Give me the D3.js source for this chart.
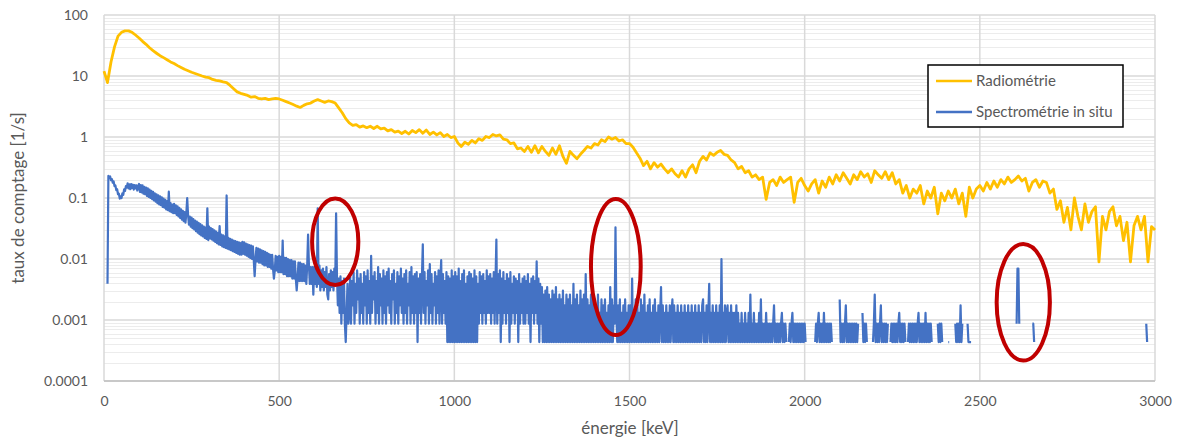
<!DOCTYPE html>
<html>
<head>
<meta charset="utf-8">
<script src="https://cdn.jsdelivr.net/npm/d3@7"></script>
<style>
  body { margin: 0; background: #fff; }
  text { font-family: Lato, "Open Sans", sans-serif; fill: #595959; }
</style>
</head>
<body>
<div id="chart"></div>
<script>
// x ticks / y ticks
var xTicks = [0, 500, 1000, 1500, 2000, 2500, 3000];
var yTicks = [100, 10, 1, 0.1, 0.01, 0.001, 0.0001];
var yTickLabels = ["100", "10", "1", "0.1", "0.01", "0.001", "0.0001"];

// Radiométrie, 10 keV channels from 0 keV, count rate [1/s]
var radioStep = 10;
var radioRate = [
  12, 7.8, 17, 30, 45, 52, 55, 55, 52, 47,
  42, 37, 33, 29, 26, 23.6, 21.5, 20, 18.5, 17,
  16, 14.8, 13.8, 12.9, 12.2, 11.5, 11, 10.5, 10, 9.6,
  9.4, 8.8, 8.5, 8.3, 8.0, 7.8, 7.0, 6.2, 5.5, 5.2,
  5.0, 4.8, 4.5, 4.6, 4.3, 4.2, 4.3, 4.1, 4.2, 4.3,
  4.2, 4.0, 3.8, 3.6, 3.4, 3.2, 3.05, 3.3, 3.5, 3.6,
  3.9, 4.1, 3.9, 3.7, 3.9, 3.8, 3.6, 3.0, 2.5, 2.0,
  1.7, 1.55, 1.6, 1.45, 1.52, 1.42, 1.5, 1.38, 1.5, 1.36,
  1.4, 1.26, 1.32, 1.2, 1.25, 1.14, 1.24, 1.12, 1.28, 1.18,
  1.32, 1.15, 1.3, 1.1, 1.2, 1.08, 1.18, 1.02, 1.1, 0.98,
  1.02, 0.8, 0.7, 0.82, 0.76, 0.88, 0.8, 0.94, 0.88, 1.02,
  0.98, 1.1, 1.04, 1.08, 0.92, 0.9, 0.78, 0.8, 0.64, 0.66,
  0.58, 0.7, 0.56, 0.72, 0.55, 0.7, 0.58, 0.5, 0.66, 0.52,
  0.72, 0.48, 0.37, 0.58, 0.5, 0.44, 0.52, 0.6, 0.7, 0.66,
  0.78, 0.74, 0.9, 0.84, 1.0, 0.92, 0.98, 0.86, 0.9, 0.78,
  0.78, 0.68, 0.55, 0.45, 0.34, 0.4, 0.3, 0.38, 0.32, 0.36,
  0.3, 0.26, 0.3, 0.25, 0.22, 0.28, 0.22, 0.3, 0.35, 0.26,
  0.4, 0.48, 0.42, 0.55, 0.5, 0.56, 0.6, 0.52, 0.5, 0.42,
  0.38, 0.3, 0.33, 0.26, 0.28, 0.22, 0.24, 0.2, 0.22, 0.095,
  0.18, 0.2, 0.16, 0.22, 0.18, 0.2, 0.22, 0.085, 0.18, 0.21,
  0.16, 0.13, 0.17, 0.2, 0.12, 0.19, 0.15, 0.22, 0.17, 0.24,
  0.19, 0.26, 0.21, 0.17, 0.24, 0.2, 0.27, 0.22, 0.25, 0.18,
  0.28, 0.24, 0.21, 0.27, 0.2, 0.26, 0.17, 0.2, 0.12, 0.16,
  0.1, 0.14, 0.12, 0.16, 0.08, 0.13, 0.1, 0.15, 0.055, 0.12,
  0.09, 0.13, 0.1, 0.14, 0.08, 0.12, 0.05, 0.15, 0.1, 0.14,
  0.16, 0.13, 0.18, 0.14, 0.19, 0.15, 0.2, 0.17, 0.22, 0.18,
  0.2, 0.23, 0.19, 0.21, 0.13, 0.18, 0.2, 0.15, 0.19, 0.18,
  0.12, 0.14, 0.065, 0.09, 0.04, 0.07, 0.03, 0.1, 0.05, 0.03,
  0.08, 0.04, 0.06, 0.072, 0.009, 0.05, 0.03, 0.06, 0.072, 0.035,
  0.05, 0.02, 0.04, 0.009, 0.035, 0.05, 0.03, 0.05, 0.009, 0.034,
  0.03
];

// Spectrométrie in situ, 2.5 keV channels from 0 keV, counts (zero = no point)
var specStep = 2.5;
var specLiveTime = 2300; // s
var specCounts = [
  // 0 - 100
  0,0,0,0,9,529,490,520,450,470,410,430,360,370,310,320,265,270,225,245,
  230,275,260,320,300,360,340,400,330,385,320,390,335,380,315,375,330,370,305,360,
  // 100 - 200
  390,290,375,285,370,270,350,265,340,250,330,240,315,230,300,220,290,210,275,200,
  265,190,255,180,245,175,235,165,225,160,215,150,205,145,292,140,190,135,180,130,
  // 200 - 300
  185,130,175,122,168,115,158,108,150,102,142,96,135,91,128,230,120,84,114,78,
  110,74,104,70,98,66,94,62,90,59,86,56,82,54,78,51,75,49,156,47,
  // 300 - 400
  78,50,74,48,71,46,68,44,65,42,62,40,80,39,58,37,56,36,54,35,
  253,34,51,33,49,32,48,31,46,30,45,29,44,28,43,27,42,27,44,28,
  // 400 - 500
  43,27,41,26,40,25,39,24,38,23,37,22,12,22,35,21,34,20,33,20,
  32,19,31,18,30,18,29,17,28,17,27,16,27,16,11,15,26,15,25,14,
  // 500 - 600
  26,14,25,14,46,13,24,13,24,12,23,12,22,12,22,11,21,11,21,11,
  7,11,20,10,20,10,19,10,19,10,18,9,18,58,18,9,17,9,17,6,
  // 600 - 700
  17,9,16,8,156,9,18,7,15,8,16,7,14,8,17,6,5,13,7,15,
  8,14,7,16,9,129,12,4,11,3,12,2,10,3,11,2,1,3,9,2,
  // 700 - 800
  3,13,2,10,4,14,2,9,3,15,5,11,2,13,3,9,2,14,4,12,
  2,15,3,10,2,26,3,12,5,14,2,10,3,17,2,13,4,11,2,15,
  // 800 - 900
  3,12,2,14,4,16,3,10,2,13,5,15,2,9,3,14,2,12,4,16,
  3,11,2,13,3,15,2,9,4,14,2,17,3,12,2,13,3,14,1,11,
  // 900 - 1000
  3,13,2,12,40,3,14,2,10,4,15,2,19,3,13,2,9,4,14,2,
  12,3,15,2,10,22,2,13,3,10,2,14,1,12,1,11,1,15,1,12,
  // 1000 - 1100
  1,14,1,12,1,16,1,10,1,13,1,15,1,9,1,12,1,14,1,13,
  1,11,1,15,1,12,1,9,2,14,3,12,2,13,3,10,2,15,3,12,
  // 1100 - 1200
  3,13,2,11,3,14,2,10,48,2,13,3,15,1,11,2,14,3,10,2,
  13,3,11,1,14,2,9,3,12,2,11,3,10,1,13,2,9,3,11,2,
  // 1200 - 1300
  12,2,10,3,13,2,9,1,11,3,12,2,10,3,21,2,11,1,9,2,
  8,1,6,1,7,1,8,1,6,1,5,1,7,1,6,1,8,1,5,1,
  // 1300 - 1400
  6,1,5,1,7,1,4,1,6,1,5,1,6,1,4,1,9,1,5,1,
  6,1,4,1,7,1,5,1,6,1,13,1,5,1,4,1,6,1,5,1,
  // 1400 - 1500
  5,1,4,1,6,1,3,1,5,1,4,1,5,1,3,1,4,1,8,1,
  5,1,4,2,76,3,1,4,1,5,1,3,1,4,1,5,1,3,1,4,
  // 1500 - 1600
  1,4,1,11,1,3,1,5,1,4,1,3,1,5,1,4,1,6,1,3,
  1,4,1,5,1,3,1,4,1,5,1,3,1,4,1,3,8,1,4,1,
  // 1600 - 1700
  3,1,4,1,3,1,4,1,3,5,1,4,1,3,1,4,1,3,1,4,
  1,3,1,4,1,3,1,4,1,3,1,4,1,3,1,4,1,3,1,4,
  // 1700 - 1800
  1,3,1,4,5,1,3,1,4,1,3,9,1,3,1,4,1,3,1,4,
  1,3,1,4,1,23,1,3,1,4,1,3,4,1,3,1,4,1,3,1,
  // 1800 - 1900
  3,1,4,1,3,1,2,1,3,1,2,1,3,1,2,1,3,1,6,1,
  2,1,3,1,2,1,2,1,3,1,5,1,2,1,2,1,3,1,2,1,
  // 1900 - 2000
  2,1,2,1,2,4,1,2,1,2,1,2,1,2,3,1,2,1,2,1,
  0,0,1,2,1,2,3,1,2,1,2,1,2,1,2,1,2,1,2,1,
  // 2000 - 2100
  2,1,0,0,0,0,0,0,0,0,0,0,1,2,1,2,3,1,2,1,
  2,1,3,1,2,1,2,1,2,1,2,1,0,0,0,0,0,0,0,0,
  // 2100 - 2200
  5,1,2,1,2,1,2,4,1,2,1,2,1,2,1,2,1,2,1,2,
  1,2,0,0,0,0,3,1,2,1,2,1,0,0,0,0,0,0,1,2,
  // 2200 - 2300
  6,1,2,1,2,1,2,4,1,2,1,2,1,2,1,2,0,0,1,2,
  1,2,1,2,1,2,1,2,3,1,2,1,2,1,2,1,0,0,1,2,
  // 2300 - 2400
  1,2,1,2,1,2,1,2,1,2,3,1,2,1,2,1,2,1,3,1,
  2,1,2,1,2,1,0,0,0,0,0,0,2,1,2,1,2,1,0,0,
  // 2400 - 2500
  0,0,0,0,1,1,0,0,0,0,0,0,2,1,2,1,2,1,4,1,
  2,0,0,0,0,0,2,1,1,1,1,0,0,0,0,0,0,0,0,0,
  // 2500 - 2600
  0,0,0,0,0,0,0,0,0,0,0,0,0,0,0,0,0,0,0,0,
  0,0,0,0,0,0,0,0,0,0,0,0,0,0,0,0,0,0,0,0,
  // 2600 - 2700
  0,0,2,16,16,2,0,0,0,0,0,0,0,0,0,0,0,0,0,0,
  2,2,1,0,0,0,0,0,0,0,0,0,0,0,0,0,0,0,0,0,
  // 2700 - 2800
  0,0,0,0,0,0,0,0,0,0,0,0,0,0,0,0,0,0,0,0,
  0,0,0,0,0,0,0,0,0,0,0,0,0,0,0,0,0,0,0,0,
  // 2800 - 2900
  0,0,0,0,0,0,0,0,0,0,0,0,0,0,0,0,0,0,0,0,
  0,0,0,0,0,0,0,0,0,0,0,0,0,0,0,0,0,0,0,0,
  // 2900 - 3000
  0,0,0,0,0,0,0,0,0,0,0,0,0,0,0,0,0,0,0,0,
  0,0,0,0,0,0,0,0,0,0,2,1,0,0,0,0,0,0,0,0,
  0
];

// highlighted peaks: centre energy, centre rate, half width keV, half height in decades
var peakKeV = [660, 1461, 2624];
var peakRate = [0.0192, 0.0074, 0.00195];
var peakHalfKeV = [66, 71, 76];
var peakHalfDec = [0.71, 1.115, 0.956];

var seriesNames = ["Radiométrie", "Spectrométrie in situ"];
var seriesColors = ["#ffc000", "#4472c4"];

var svgWidth = 1183;
var svgHeight = 441;
var margin = { top: 15, right: 28, bottom: 60, left: 104 };
var width = 1155 - margin.left;
var height = 381 - margin.top;

var svg = d3.select("#chart")
  .append("svg")
  .attr("width", svgWidth)
  .attr("height", svgHeight);

var chartGroup = svg.append("g")
  .attr("transform", `translate(${margin.left}, ${margin.top})`);

var x = d3.scaleLinear().domain([0, 3000]).range([0, width]);
var y = d3.scaleLog().domain([0.0001, 100]).range([height, 0]);

// minor horizontal grid
var minor = [];
for (var e = -4; e < 2; e++) {
  for (var k = 2; k < 10; k++) minor.push(k * Math.pow(10, e));
}
chartGroup.append("g").selectAll("line")
  .data(minor).enter().append("line")
  .attr("x1", 0).attr("x2", width)
  .attr("y1", d => Math.round(y(d)) + 0.5).attr("y2", d => Math.round(y(d)) + 0.5)
  .attr("stroke", "#ececec").attr("stroke-width", 1);

// major grid
chartGroup.append("g").selectAll("line")
  .data(yTicks).enter().append("line")
  .attr("x1", 0).attr("x2", width)
  .attr("y1", d => Math.round(y(d))).attr("y2", d => Math.round(y(d)))
  .attr("stroke", "#d9d9d9").attr("stroke-width", 1.5);

chartGroup.append("g").selectAll("line")
  .data(xTicks).enter().append("line")
  .attr("x1", d => x(d)).attr("x2", d => x(d))
  .attr("y1", 0).attr("y2", height)
  .attr("stroke", "#d9d9d9").attr("stroke-width", 1.5);

chartGroup.append("line")
  .attr("x1", 0).attr("x2", width)
  .attr("y1", height).attr("y2", height)
  .attr("stroke", "#bfbfbf").attr("stroke-width", 1.5);

// axes labels
var leftAxis = d3.axisLeft(y)
  .tickValues(yTicks)
  .tickSize(0)
  .tickPadding(16)
  .tickFormat((d, i) => yTickLabels[i]);
chartGroup.append("g").call(leftAxis)
  .call(g => g.select(".domain").remove())
  .selectAll("text").attr("font-size", 14).attr("font-family", "Lato").attr("fill", "#595959");

var bottomAxis = d3.axisBottom(x)
  .tickValues(xTicks)
  .tickSize(0)
  .tickPadding(15)
  .tickFormat(d3.format("d"));
chartGroup.append("g")
  .attr("transform", `translate(0, ${height})`)
  .call(bottomAxis)
  .call(g => g.select(".domain").remove())
  .selectAll("text").attr("font-size", 14).attr("font-family", "Lato").attr("fill", "#595959");

// series
var radioData = radioRate.map((v, i) => ({ e: i * radioStep, v: v }));
var specData = specCounts.map((c, i) => ({ e: i * specStep, v: c / specLiveTime }));

var line = d3.line()
  .defined(d => d.v > 0)
  .x(d => x(d.e))
  .y(d => y(d.v));

chartGroup.append("path")
  .datum(specData)
  .attr("d", line)
  .attr("fill", "none")
  .attr("stroke", seriesColors[1])
  .attr("stroke-width", 2.2)
  .attr("stroke-linejoin", "round");

chartGroup.append("path")
  .datum(radioData)
  .attr("d", line)
  .attr("fill", "none")
  .attr("stroke", seriesColors[0])
  .attr("stroke-width", 2.8)
  .attr("stroke-linejoin", "round");

// red ellipses
peakKeV.forEach(function(p, i) {
  var cy = y(peakRate[i]);
  var top = y(peakRate[i] * Math.pow(10, peakHalfDec[i]));
  chartGroup.append("ellipse")
    .attr("cx", x(p))
    .attr("cy", cy)
    .attr("rx", x(p + peakHalfKeV[i]) - x(p))
    .attr("ry", cy - top)
    .attr("fill", "none")
    .attr("stroke", "#c00000")
    .attr("stroke-width", 4);
});

// axis titles
svg.append("text")
  .attr("x", 630)
  .attr("y", 434)
  .attr("text-anchor", "middle")
  .attr("font-size", 17)
  .text("énergie [keV]");

svg.append("text")
  .attr("transform", "translate(24, 198) rotate(-90)")
  .attr("text-anchor", "middle")
  .attr("font-size", 17)
  .text("taux de comptage [1/s]");

// legend
var legend = svg.append("g").attr("transform", "translate(928, 65)");
legend.append("rect")
  .attr("width", 195).attr("height", 62)
  .attr("fill", "#fff").attr("stroke", "#000").attr("stroke-width", 1.5);
seriesNames.forEach(function(name, i) {
  legend.append("line")
    .attr("x1", 8).attr("x2", 44)
    .attr("y1", 16 + i * 31).attr("y2", 16 + i * 31)
    .attr("stroke", seriesColors[i]).attr("stroke-width", 2.5);
  legend.append("text")
    .attr("x", 48).attr("y", 21 + i * 31)
    .attr("font-size", 15)
    .text(name);
});
</script>
</body>
</html>
